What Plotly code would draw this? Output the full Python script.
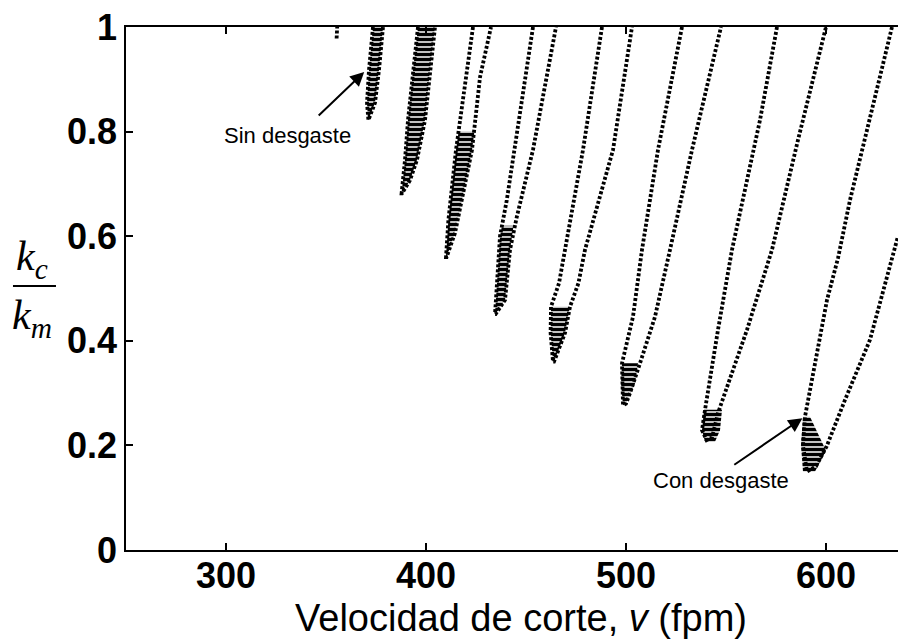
import plotly.graph_objects as go

# ---- data (v in fpm, k = kc/km) ----
# each lobe: left branch (top -> bottom) followed by right branch (bottom -> top)
L0_v = [355.3, 355.6]
L0_k = [0.978, 1.0]

L1_v = [373.5, 371.5, 370.5, 371.0, 371.2, 374.5, 376.5, 378.5]
L1_k = [1.0, 0.918, 0.855, 0.822, 0.822, 0.855, 0.918, 1.0]

L2_v = [396, 393.5, 391, 389.5, 388.5, 387.8, 388.0, 392, 395.5, 399.5, 402, 404.5]
L2_k = [1, 0.918, 0.822, 0.746, 0.707, 0.682, 0.682, 0.707, 0.746, 0.822, 0.918, 1]

L3_v = [423.5, 419, 415, 411.2, 410, 410.3, 414.5, 418, 423, 427, 432.5]
L3_k = [1, 0.88, 0.765, 0.631, 0.56, 0.56, 0.606, 0.669, 0.765, 0.904, 1]

L4_v = [453.5, 444.5, 440.4, 437, 434.5, 434.8, 439.5, 442, 445.4, 453.5, 465]
L4_k = [1, 0.765, 0.669, 0.6, 0.451, 0.451, 0.478, 0.574, 0.637, 0.765, 1]

L5_v = [488, 478.5, 469.5, 466.5, 462.5, 462.3, 463.5, 464, 469.5, 472, 476.2, 479.5, 493.5, 503]
L5_k = [1, 0.765, 0.574, 0.51, 0.465, 0.415, 0.36, 0.36, 0.415, 0.465, 0.51, 0.574, 0.765, 1]

L6_v = [528, 516, 508, 503.5, 498, 498.5, 500, 502, 507, 514.5, 522, 533, 547.5]
L6_k = [1, 0.765, 0.574, 0.446, 0.357, 0.277, 0.28, 0.30, 0.357, 0.446, 0.574, 0.765, 1]

L7_v = [575.5, 567, 553, 546, 539.5, 538, 540.3, 543, 546, 560.5, 573, 586, 600]
L7_k = [1, 0.822, 0.574, 0.421, 0.268, 0.229, 0.21, 0.215, 0.262, 0.421, 0.574, 0.784, 1]

L8_v = [633, 619.5, 612, 606, 600.5, 589.5, 588.5, 590.5, 595, 600.3, 609.5, 622, 635.3, 636]
L8_k = [1, 0.784, 0.669, 0.558, 0.478, 0.255, 0.2, 0.15, 0.16, 0.198, 0.287, 0.402, 0.593, 0.60]

# dense (overlapping) zones near the lobe minima
C3_v = [416.3, 415, 411.2, 410, 410.3, 414.5, 418, 423, 424.2]
C3_k = [0.80, 0.765, 0.631, 0.56, 0.56, 0.606, 0.669, 0.765, 0.80]
C4_v = [438, 437, 434.5, 434.8, 439.5, 442, 443.8]
C4_k = [0.62, 0.6, 0.451, 0.451, 0.478, 0.574, 0.62]
C5_v = [462.5, 462.3, 463.5, 464, 469.5, 472]
C5_k = [0.465, 0.415, 0.36, 0.36, 0.415, 0.465]
C6_v = [498, 497.5, 498.5, 500, 504.5, 506]
C6_k = [0.357, 0.319, 0.277, 0.28, 0.319, 0.357]
C7_v = [539, 538, 539.5, 544.5, 547, 548]
C7_k = [0.268, 0.229, 0.207, 0.207, 0.229, 0.268]
C8_v = [588.5, 587.5, 588.5, 594.5, 600, 592]
C8_k = [0.255, 0.2, 0.15, 0.15, 0.19, 0.255]

x_ticks = [300, 400, 500, 600]
y_ticks = [0, 0.2, 0.4, 0.6, 0.8, 1]
y_ticktext = ["0", "0.2", "0.4", "0.6", "0.8", "1"]

lobes = [(L0_v, L0_k), (L1_v, L1_k), (L2_v, L2_k), (L3_v, L3_k), (L4_v, L4_k),
         (L5_v, L5_k), (L6_v, L6_k), (L7_v, L7_k), (L8_v, L8_k)]
cores = [(L1_v, L1_k), (L2_v, L2_k), (C3_v, C3_k), (C4_v, C4_k), (C5_v, C5_k),
         (C6_v, C6_k), (C7_v, C7_k), (C8_v, C8_k)]

fig = go.Figure()

for cv, ck in cores:
    fig.add_trace(go.Scatter(
        x=cv, y=ck, mode="none", fill="toself",
        fillcolor="rgba(0,0,0,0)",
        fillpattern=dict(shape="-", size=5, solidity=0.7, fgopacity=1,
                         fillmode="replace",
                         fgcolor="black", bgcolor="rgba(0,0,0,0)"),
        hoverinfo="skip", showlegend=False))

for lv, lk in lobes:
    fig.add_trace(go.Scatter(
        x=lv, y=lk, mode="lines",
        line=dict(color="black", width=3.8, dash="3px,2px"),
        hoverinfo="skip", showlegend=False))

tickfont = dict(family="Liberation Sans, Arial", size=36, color="black", weight="bold")

fig.update_layout(
    width=898, height=640,
    margin=dict(l=126, r=0, t=27, b=90),
    paper_bgcolor="white", plot_bgcolor="white",
    showlegend=False,
    xaxis=dict(range=[250, 636], tickvals=x_ticks, ticks="inside", ticklen=7,
               tickwidth=1.5, tickcolor="black", showline=True, linecolor="black",
               linewidth=1.5, mirror="ticks", showgrid=False, zeroline=False,
               tickfont=tickfont, ticklabelstandoff=-7),
    yaxis=dict(range=[0, 1], tickvals=y_ticks, ticktext=y_ticktext,
               ticks="inside", ticklen=7, tickwidth=1.5, tickcolor="black",
               showline=True, linecolor="black", linewidth=1.5, showgrid=False,
               zeroline=False, tickfont=tickfont),
)

# x-axis title
fig.add_annotation(xref="paper", yref="paper", x=0.5117, y=-0.13,
                   text="Velocidad de corte, <i>v</i> (fpm)", showarrow=False,
                   font=dict(family="Liberation Sans, Arial", size=38, color="black"),
                   xanchor="center", yanchor="middle")

# y-axis label as a fraction kc/km
serif = dict(family="Liberation Serif, Times New Roman", size=42, color="black")
fig.add_annotation(xref="paper", yref="paper", x=-0.1215, y=0.556,
                   text="<i>k<sub>c</sub></i>", showarrow=False, font=serif,
                   xanchor="center", yanchor="middle")
fig.add_annotation(xref="paper", yref="paper", x=-0.1215, y=0.443,
                   text="<i>k<sub>m</sub></i>", showarrow=False, font=serif,
                   xanchor="center", yanchor="middle")
fig.add_shape(type="line", xref="paper", yref="paper", x0=-0.1464, x1=-0.0907,
              y0=0.5048, y1=0.5048, line=dict(color="black", width=2))

# annotations with arrows
note_font = dict(family="Liberation Sans, Arial", size=22, color="black")
fig.add_annotation(x=330.75, y=0.7916, xref="x", yref="y", text="Sin desgaste",
                   showarrow=False, font=note_font)
fig.add_annotation(x=369.1, y=0.914, ax=345.6, ay=0.828, xref="x", yref="y",
                   axref="x", ayref="y", text="", showarrow=True, arrowhead=2,
                   arrowsize=1.4, arrowwidth=2, arrowcolor="black")
fig.add_annotation(x=547.25, y=0.1338, xref="x", yref="y", text="Con desgaste",
                   showarrow=False, font=note_font)
fig.add_annotation(x=588.2, y=0.252, ax=553.4, ay=0.161, xref="x", yref="y",
                   axref="x", ayref="y", text="", showarrow=True, arrowhead=2,
                   arrowsize=1.4, arrowwidth=2, arrowcolor="black")

fig.write_html("out.html")
